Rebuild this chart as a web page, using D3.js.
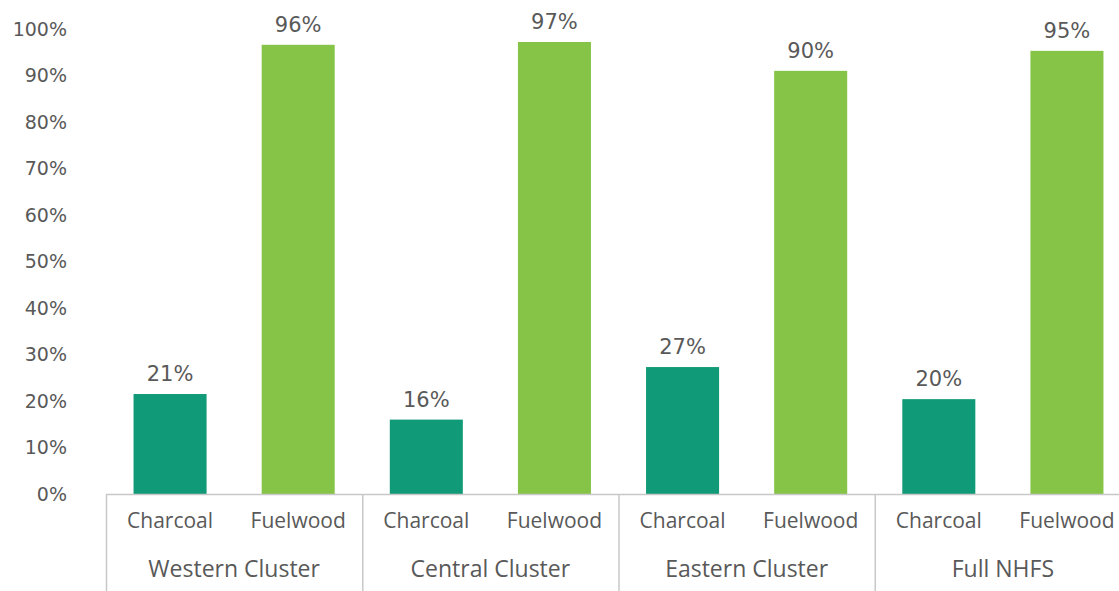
<!DOCTYPE html>
<html><head><meta charset="utf-8">
<script src="https://cdn.jsdelivr.net/npm/d3@7"></script>
<style>body{margin:0;background:#fff;} svg{display:block;}</style>
</head><body>
<svg id="chart" width="1119" height="591"></svg>
<script>
const groups = ["Western Cluster","Central Cluster","Eastern Cluster","Full NHFS"];
const fuels = ["Charcoal","Fuelwood"];
const charcoal = [21.5, 16, 27.3, 20.4];
const fuelwood = [96.6, 97.2, 91, 95.3];
const charcoalLabels = ["21%","16%","27%","20%"];
const fuelwoodLabels = ["96%","97%","90%","95%"];
const yTicks = [0,10,20,30,40,50,60,70,80,90,100];
const colors = {Charcoal:"#119a78", Fuelwood:"#85c447"};

(function(){
const svg = d3.select("#chart");
const mLeft = 106, mRight = 1131, mTop = 29, mBottom = 494;
const x0 = d3.scaleBand().domain(groups).range([mLeft,mRight]).padding(0);
const x1 = d3.scaleBand().domain(fuels).range([0,x0.bandwidth()]).paddingInner(0.43).paddingOuter(0.215);
const y = d3.scaleLinear().domain([0,100]).range([mBottom,mTop]);
const numFont = "'DejaVu Sans', sans-serif";
const txtFont = "'Open Sans', sans-serif";

const rows = [];
groups.forEach((g,i)=>{
  rows.push({g, f:"Charcoal", v:charcoal[i], lab:charcoalLabels[i]});
  rows.push({g, f:"Fuelwood", v:fuelwood[i], lab:fuelwoodLabels[i]});
});

const yAxis = d3.axisLeft(y).tickValues(yTicks).tickFormat(d=>d+"%").tickSize(0).tickPadding(0);
const ya = svg.append("g").attr("transform","translate(67,0)").call(yAxis);
ya.select(".domain").remove();
ya.selectAll("text").attr("font-family",numFont).attr("font-size",19).attr("fill","#595959");

svg.append("g").selectAll("rect").data(rows).join("rect")
  .attr("x",d=>x0(d.g)+x1(d.f)).attr("width",x1.bandwidth())
  .attr("y",d=>y(d.v)).attr("height",d=>y(0)-y(d.v))
  .attr("fill",d=>colors[d.f]);

svg.append("g").selectAll("text").data(rows).join("text")
  .attr("x",d=>x0(d.g)+x1(d.f)+x1.bandwidth()/2).attr("y",d=>y(d.v)-13)
  .attr("text-anchor","middle").attr("font-family",numFont).attr("font-size",21)
  .attr("fill","#595959").text(d=>d.lab);

svg.append("line").attr("x1",mLeft).attr("x2",1119).attr("y1",mBottom+0.5).attr("y2",mBottom+0.5)
  .attr("stroke","#c8c8c8").attr("stroke-width",1.5);
const seps = groups.map(g=>x0(g));
svg.append("g").selectAll("line").data(seps).join("line")
  .attr("x1",d=>d+0.5).attr("x2",d=>d+0.5).attr("y1",mBottom).attr("y2",591)
  .attr("stroke","#c8c8c8").attr("stroke-width",1.5);

svg.append("g").selectAll("text").data(rows).join("text")
  .attr("x",d=>x0(d.g)+x1(d.f)+x1.bandwidth()/2).attr("y",528)
  .attr("text-anchor","middle").attr("font-family",txtFont).attr("font-size",21)
  .attr("fill","#595959").text(d=>d.f);

svg.append("g").selectAll("text").data(groups).join("text")
  .attr("x",d=>x0(d)+x0.bandwidth()/2).attr("y",577)
  .attr("text-anchor","middle").attr("font-family",txtFont).attr("font-size",23)
  .attr("fill","#595959").text(d=>d);
})();
</script>
</body></html>
